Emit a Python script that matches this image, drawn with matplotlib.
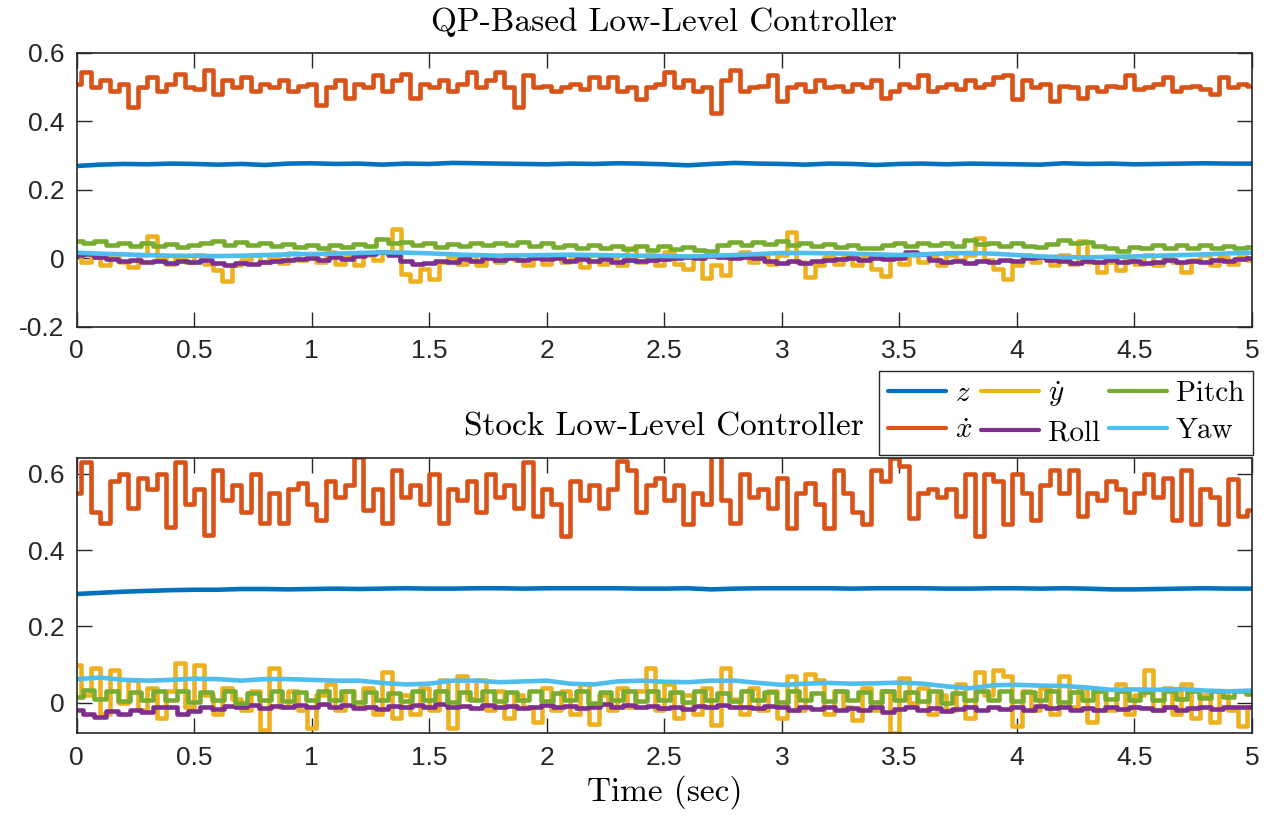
import numpy as np
import matplotlib
matplotlib.use("Agg")
import matplotlib.pyplot as plt

plt.rcParams['mathtext.fontset'] = 'cm'
plt.rcParams['axes.unicode_minus'] = False

# MATLAB default line colours
C_Z = '#0072BD'
C_XD = '#D95319'
C_YD = '#EDB120'
C_ROLL = '#7E2F8E'
C_PITCH = '#77AC30'
C_YAW = '#4DBEEE'

T_END = 5.0

# ---------------- QP-based low-level controller (top) ----------------
qp_z = [0.270, 0.274, 0.276, 0.275, 0.277, 0.276, 0.274, 0.276, 0.273, 0.277,
        0.278, 0.276, 0.277, 0.274, 0.277, 0.276, 0.279, 0.278, 0.277, 0.276,
        0.275, 0.277, 0.276, 0.278, 0.277, 0.275, 0.272, 0.276, 0.279, 0.277,
        0.276, 0.274, 0.277, 0.276, 0.273, 0.276, 0.277, 0.275, 0.277, 0.276,
        0.275, 0.274, 0.278, 0.276, 0.277, 0.275, 0.276, 0.277, 0.278, 0.277,
        0.277]

qp_xdot = [0.51, 0.545, 0.50, 0.52, 0.49, 0.51, 0.443, 0.50, 0.53, 0.49,
           0.51, 0.54, 0.50, 0.495, 0.55, 0.48, 0.52, 0.50, 0.53, 0.49,
           0.51, 0.50, 0.52, 0.49, 0.505, 0.51, 0.448, 0.50, 0.52, 0.47,
           0.51, 0.50, 0.535, 0.49, 0.52, 0.54, 0.47, 0.51, 0.50, 0.52,
           0.49, 0.51, 0.545, 0.50, 0.52, 0.545, 0.50, 0.443, 0.535, 0.50,
           0.505, 0.49, 0.50, 0.51, 0.495, 0.53, 0.50, 0.53, 0.49, 0.50,
           0.467, 0.50, 0.51, 0.545, 0.50, 0.52, 0.49, 0.50, 0.425, 0.52,
           0.55, 0.49, 0.50, 0.505, 0.535, 0.46, 0.50, 0.51, 0.49, 0.52,
           0.50, 0.505, 0.49, 0.51, 0.50, 0.52, 0.47, 0.49, 0.51, 0.50,
           0.535, 0.49, 0.50, 0.51, 0.495, 0.52, 0.50, 0.51, 0.53, 0.536,
           0.465, 0.52, 0.50, 0.51, 0.46, 0.505, 0.50, 0.47, 0.50, 0.49,
           0.505, 0.50, 0.536, 0.495, 0.50, 0.51, 0.53, 0.49, 0.50, 0.505,
           0.495, 0.48, 0.53, 0.50, 0.51, 0.505]

qp_ydot = [0.010, -0.010, 0.005, -0.020, 0.010, -0.010, -0.025, 0.010, 0.065, 0.000,
           -0.015, 0.005, -0.010, 0.010, -0.015, -0.035, -0.066, -0.020, -0.005, 0.010,
           -0.010, 0.005, -0.012, 0.015, -0.005, 0.010, -0.010, 0.020, -0.015, 0.005,
           -0.020, 0.010, -0.005, 0.020, 0.085, -0.045, -0.066, -0.030, -0.060, -0.010,
           0.005, -0.015, 0.010, -0.020, 0.005, -0.010, 0.010, -0.005, -0.020, 0.005,
           -0.015, 0.010, -0.010, 0.005, -0.025, 0.010, -0.015, 0.005, -0.020, 0.030,
           -0.010, 0.010, -0.020, 0.020, -0.015, -0.030, 0.005, -0.056, -0.020, -0.048,
           0.010, 0.020, -0.010, 0.005, -0.015, 0.010, 0.076, -0.010, -0.055, -0.020,
           0.005, -0.015, 0.010, -0.020, 0.005, -0.030, -0.050, 0.005, -0.015, 0.010,
           -0.010, 0.005, -0.020, 0.010, -0.005, 0.010, 0.060, -0.005, -0.030, -0.060,
           -0.020, 0.010, -0.010, 0.005, -0.020, 0.010, -0.015, 0.050, -0.010, -0.040,
           -0.010, -0.035, 0.005, -0.015, 0.010, -0.020, 0.005, -0.010, -0.040, -0.005,
           0.010, -0.020, 0.005, -0.015, 0.005, -0.005]

qp_roll = [0.010, 0.012, 0.004, -0.002, -0.006, -0.004, -0.010, -0.008, -0.012, -0.006,
           -0.010, -0.004, -0.012, -0.018, -0.012, -0.016, -0.010, -0.008, -0.004, -0.002,
           0.000, -0.004, 0.004, -0.002, 0.006, 0.014, 0.020, 0.010, -0.008, -0.016,
           -0.012, -0.006, -0.010, -0.002, -0.006, 0.000, -0.004, 0.002, -0.004, 0.002,
           -0.002, 0.002, -0.006, -0.002, -0.008, -0.002, -0.010, -0.004, -0.008, -0.004,
           -0.002, 0.000, 0.004, 0.002, 0.008, 0.004, 0.002, 0.004, 0.000, -0.006,
           -0.012, -0.008, -0.012, -0.006, -0.004, -0.002, 0.000, -0.004, 0.002, -0.002,
           0.000, 0.020, 0.012, -0.004, -0.010, -0.008, -0.012, -0.006, -0.010, -0.004,
           -0.006, 0.000, 0.004, -0.004, -0.008, -0.012, -0.006, -0.010, -0.004, -0.010,
           -0.008, -0.014, -0.010, -0.004, -0.010, -0.006, -0.010, -0.004, -0.006, -0.002,
           0.000]

qp_pitch = [0.052, 0.045, 0.050, 0.040, 0.046, 0.036, 0.044, 0.035, 0.042, 0.034,
            0.040, 0.046, 0.050, 0.040, 0.048, 0.038, 0.046, 0.035, 0.042, 0.033,
            0.040, 0.030, 0.038, 0.034, 0.042, 0.036, 0.056, 0.045, 0.048, 0.038,
            0.044, 0.034, 0.042, 0.036, 0.044, 0.038, 0.046, 0.040, 0.047, 0.036,
            0.044, 0.034, 0.040, 0.032, 0.038, 0.030, 0.036, 0.028, 0.035, 0.026,
            0.036, 0.028, 0.034, 0.026, 0.022, 0.040, 0.048, 0.040, 0.048, 0.042,
            0.050, 0.038, 0.044, 0.035, 0.042, 0.034, 0.040, 0.032, 0.030, 0.038,
            0.044, 0.036, 0.044, 0.038, 0.046, 0.036, 0.055, 0.042, 0.046, 0.036,
            0.044, 0.036, 0.034, 0.042, 0.055, 0.044, 0.048, 0.036, 0.030, 0.022,
            0.034, 0.030, 0.038, 0.032, 0.040, 0.032, 0.038, 0.030, 0.036, 0.030,
            0.034]

qp_yaw = [0.017, 0.014, 0.012, 0.010, 0.008, 0.008, 0.007, 0.008, 0.010, 0.012,
          0.013, 0.014, 0.016, 0.018, 0.017, 0.015, 0.012, 0.010, 0.008, 0.009,
          0.010, 0.011, 0.010, 0.009, 0.008, 0.007, 0.006, 0.008, 0.010, 0.013,
          0.016, 0.016, 0.015, 0.014, 0.012, 0.010, 0.012, 0.015, 0.016, 0.014,
          0.010, 0.006, 0.004, 0.003, 0.005, 0.006, 0.008, 0.010, 0.012, 0.015,
          0.017]

# ---------------- Stock low-level controller (bottom) ----------------
st_z = [0.285, 0.288, 0.291, 0.293, 0.295, 0.296, 0.296, 0.298, 0.298, 0.297,
        0.298, 0.299, 0.298, 0.299, 0.300, 0.299, 0.299, 0.300, 0.300, 0.299,
        0.300, 0.300, 0.300, 0.300, 0.299, 0.299, 0.300, 0.297, 0.299, 0.300,
        0.300, 0.300, 0.300, 0.299, 0.300, 0.300, 0.300, 0.299, 0.299, 0.300,
        0.300, 0.299, 0.300, 0.299, 0.297, 0.297, 0.298, 0.299, 0.300, 0.299,
        0.299]

st_xdot = [0.55, 0.63, 0.50, 0.47, 0.58, 0.60, 0.51, 0.59, 0.56, 0.60,
           0.46, 0.63, 0.52, 0.56, 0.44, 0.61, 0.53, 0.57, 0.50, 0.60,
           0.47, 0.55, 0.47, 0.56, 0.575, 0.52, 0.48, 0.58, 0.54, 0.57,
           0.645, 0.506, 0.56, 0.47, 0.61, 0.54, 0.57, 0.52, 0.60, 0.47,
           0.56, 0.53, 0.58, 0.50, 0.60, 0.54, 0.57, 0.51, 0.63, 0.49,
           0.56, 0.52, 0.436, 0.58, 0.53, 0.57, 0.51, 0.56, 0.634, 0.61,
           0.50, 0.57, 0.59, 0.53, 0.57, 0.467, 0.55, 0.52, 0.646, 0.53,
           0.47, 0.60, 0.54, 0.56, 0.51, 0.59, 0.458, 0.55, 0.575, 0.52,
           0.458, 0.61, 0.55, 0.50, 0.467, 0.61, 0.58, 0.641, 0.62, 0.484,
           0.55, 0.56, 0.54, 0.56, 0.49, 0.60, 0.436, 0.60, 0.58, 0.467,
           0.60, 0.55, 0.48, 0.57, 0.61, 0.55, 0.61, 0.49, 0.55, 0.53,
           0.58, 0.56, 0.50, 0.55, 0.60, 0.54, 0.59, 0.48, 0.61, 0.467,
           0.56, 0.54, 0.467, 0.585, 0.49, 0.506]

st_ydot = [0.100, 0.020, 0.090, -0.030, 0.085, 0.000, 0.060, -0.020, 0.040, -0.040,
           0.030, 0.105, -0.010, 0.100, 0.020, -0.030, 0.040, 0.010, -0.020, 0.030,
           -0.070, 0.090, -0.010, 0.030, -0.020, -0.065, 0.020, 0.050, -0.020, 0.030,
           -0.010, 0.040, -0.030, 0.080, -0.040, 0.020, -0.030, 0.040, -0.020, 0.060,
           -0.065, 0.070, 0.010, 0.060, -0.020, 0.030, -0.040, 0.020, -0.010, -0.050,
           0.040, -0.020, 0.030, -0.030, 0.050, -0.055, 0.020, -0.020, 0.040, -0.010,
           0.030, 0.090, -0.020, 0.050, -0.040, 0.020, -0.030, 0.040, -0.057, 0.090,
           0.010, -0.030, 0.040, -0.020, 0.030, -0.040, 0.070, -0.020, 0.075, 0.060,
           -0.030, 0.030, -0.010, -0.045, 0.040, -0.020, 0.030, -0.080, 0.065, 0.000,
           0.040, -0.030, 0.020, -0.020, 0.050, -0.040, 0.080, 0.020, 0.085, 0.070,
           -0.060, 0.030, -0.020, 0.040, -0.030, 0.070, -0.010, 0.040, -0.050, 0.030,
           -0.020, 0.050, -0.030, 0.020, 0.085, -0.020, 0.040, -0.030, 0.050, -0.040,
           0.020, -0.050, 0.030, -0.020, -0.060, -0.010]

st_roll = [-0.020, -0.030, -0.036, -0.022, -0.030, -0.018, -0.024, -0.012, -0.010, -0.030,
           -0.022, -0.012, -0.016, -0.008, -0.012, -0.006, -0.014, -0.008, -0.012, -0.006,
           -0.010, -0.004, -0.012, -0.006, -0.014, -0.010, -0.016, -0.008, -0.012, -0.006,
           -0.010, -0.004, -0.012, -0.008, -0.014, -0.006, -0.012, -0.008, -0.014, -0.010,
           -0.006, -0.012, -0.008, -0.014, -0.010, -0.004, -0.010, -0.006, -0.012, -0.008,
           -0.014, -0.010, -0.016, -0.008, -0.012, -0.006, -0.012, -0.010, -0.014, -0.008,
           -0.012, -0.018, -0.010, -0.016, -0.012, -0.018, -0.014, -0.020, -0.010, -0.024,
           -0.016, -0.012, -0.020, -0.014, -0.022, -0.016, -0.012, -0.018, -0.010, -0.016,
           -0.012, -0.018, -0.008, -0.014, -0.010, -0.018, -0.014, -0.020, -0.012, -0.016,
           -0.010, -0.014, -0.020, -0.012, -0.018, -0.014, -0.010, -0.016, -0.012, -0.010,
           -0.010]

st_pitch = [0.016, 0.034, 0.010, 0.030, 0.004, 0.028, 0.006, 0.032, 0.008, 0.030,
            0.002, 0.028, 0.008, 0.030, 0.000, 0.026, 0.006, 0.030, 0.004, 0.028,
            0.008, 0.032, 0.006, 0.030, 0.002, 0.028, 0.006, 0.026, 0.004, 0.030,
            0.008, 0.030, 0.002, 0.028, 0.006, 0.032, 0.004, 0.028, 0.008, 0.030,
            0.004, 0.026, 0.006, 0.030, 0.000, 0.028, 0.008, 0.030, 0.004, 0.032,
            0.006, 0.028, 0.002, 0.030, 0.006, 0.026, 0.004, 0.030, 0.008, 0.028,
            0.002, 0.030, 0.006, 0.026, 0.004, 0.032, 0.008, 0.028, 0.002, 0.030,
            0.006, 0.028, 0.004, 0.030, 0.000, 0.026, 0.006, 0.032, 0.008, 0.030,
            0.004, 0.028, 0.006, 0.030, 0.002, 0.028, 0.008, 0.032, 0.010, 0.030,
            0.006, 0.028, 0.008, 0.030, 0.010, 0.032, 0.012, 0.030, 0.014, 0.032,
            0.022]

st_yaw = [0.062, 0.066, 0.060, 0.058, 0.060, 0.063, 0.062, 0.058, 0.062, 0.062,
          0.060, 0.058, 0.058, 0.052, 0.048, 0.050, 0.058, 0.058, 0.054, 0.056,
          0.058, 0.050, 0.048, 0.056, 0.058, 0.055, 0.054, 0.058, 0.058, 0.052,
          0.047, 0.050, 0.052, 0.050, 0.051, 0.053, 0.050, 0.043, 0.038, 0.046,
          0.047, 0.045, 0.044, 0.040, 0.034, 0.035, 0.034, 0.036, 0.032, 0.030,
          0.032]

LABELS = [r'$z$', r'$\dot{x}$', r'$\dot{y}$', 'Roll', 'Pitch', 'Yaw']
COLORS = [C_Z, C_XD, C_YD, C_ROLL, C_PITCH, C_YAW]
STEPPED = [False, True, True, True, True, False]

TITLE_FONT = dict(family='cmr10', size=24)
TICK_FONT = 'Liberation Sans'


def tgrid(vals):
    return np.linspace(0, T_END, len(vals))


def draw_panel(ax, series, title, ylim, yticks):
    handles = []
    for vals, col, lab, stp in zip(series, COLORS, LABELS, STEPPED):
        ds = 'steps-mid' if stp else 'default'
        h, = ax.plot(tgrid(vals), vals, color=col, lw=3.3, label=lab,
                     drawstyle=ds, solid_joinstyle='round', solid_capstyle='round')
        handles.append(h)
    ax.set_xlim(0, T_END)
    ax.set_ylim(*ylim)
    ax.set_xticks(np.arange(0, 5.01, 0.5))
    ax.set_xticklabels(['0', '0.5', '1', '1.5', '2', '2.5', '3', '3.5', '4', '4.5', '5'])
    ax.set_yticks(yticks)
    ax.set_yticklabels(['%g' % v for v in yticks])
    ax.tick_params(direction='in', length=11, width=1.0, colors='#262626',
                   top=True, right=True, labelsize=19, pad=9)
    for lbl in ax.get_xticklabels() + ax.get_yticklabels():
        lbl.set_fontfamily(TICK_FONT)
    for sp in ax.spines.values():
        sp.set_color('#262626')
        sp.set_linewidth(1.2)
    ax.set_title(title, fontdict=TITLE_FONT, pad=16)
    return handles


fig = plt.figure(figsize=(12.69, 8.15), dpi=100)
ax1 = fig.add_axes([0.0604, 0.5988, 0.9262, 0.3362])
ax2 = fig.add_axes([0.0604, 0.1002, 0.9262, 0.3378])

draw_panel(ax1, [qp_z, qp_xdot, qp_ydot, qp_roll, qp_pitch, qp_yaw],
           'QP-Based Low-Level Controller', (-0.2, 0.6), [-0.2, 0, 0.2, 0.4, 0.6])
hs = draw_panel(ax2, [st_z, st_xdot, st_ydot, st_roll, st_pitch, st_yaw],
                'Stock Low-Level Controller', (-0.08, 0.641), [0, 0.2, 0.4, 0.6])
ax2.set_xlabel('Time (sec)', fontdict=TITLE_FONT, labelpad=4)

leg = fig.legend(handles=hs, labels=LABELS, ncol=3, loc='upper right',
                 bbox_to_anchor=(0.9874, 0.5448), prop=dict(family='cmr10', size=21),
                 fancybox=False, framealpha=1, edgecolor='#262626',
                 handlelength=2.0, handletextpad=0.3, columnspacing=0.3,
                 labelspacing=0.35, borderpad=0.3, borderaxespad=0)
leg.get_frame().set_linewidth(1.0)
for ln in leg.get_lines():
    ln.set_linewidth(3.0)

fig.savefig('out.png', dpi=100)
